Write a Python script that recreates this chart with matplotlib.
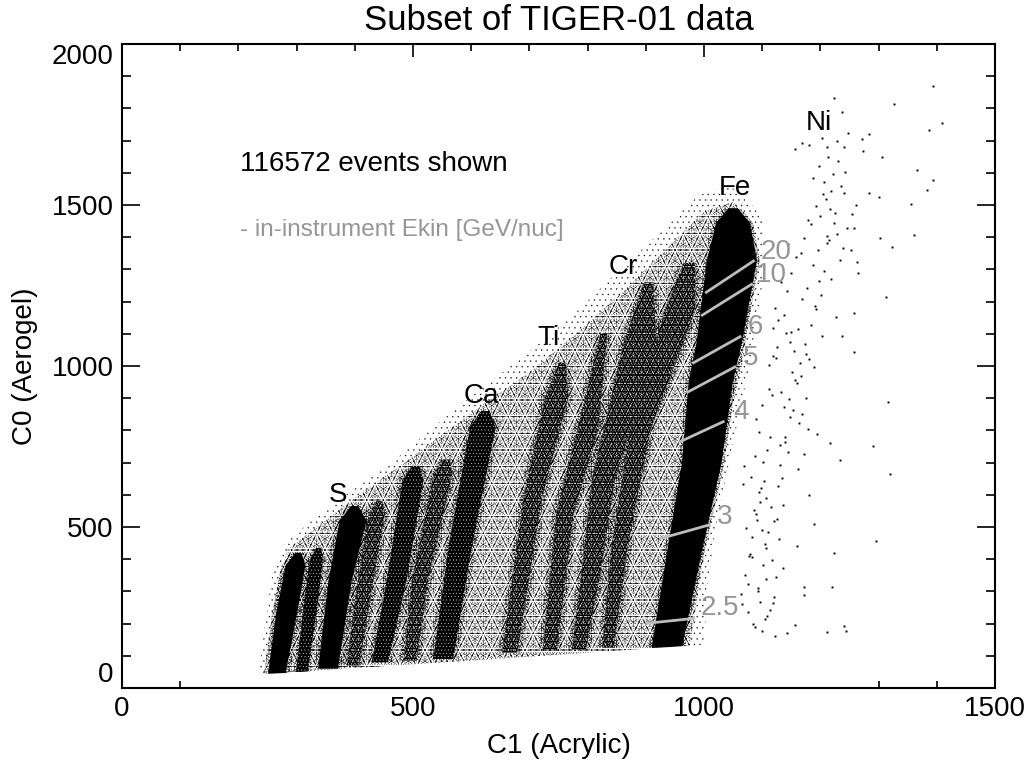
import matplotlib
matplotlib.use('Agg')
import matplotlib.pyplot as plt

plt.rcParams['font.family'] = ['Liberation Sans', 'DejaVu Sans']
plt.rcParams['hatch.linewidth'] = 0.2

# lower cut of the event cloud
floor_c1 = [150, 254, 500, 750, 990, 1240]
floor_c0 = [38, 45, 75, 105, 135, 160]

# outline of the scattered cloud under the bands
cloud_c1 = [252, 258, 268, 285, 320, 400, 470, 560, 620, 700, 780, 860, 950, 1000, 1050, 1085, 1085, 1065, 1035, 1005, 990, 975, 252]
cloud_c0 = [45, 180, 330, 430, 480, 590, 680, 800, 880, 980, 1100, 1230, 1390, 1480, 1510, 1430, 1250, 1000, 760, 500, 300, 125, 45]
# thin outer fringe of the same cloud
fringe_c1 = [235, 245, 258, 280, 320, 400, 470, 555, 610, 690, 770, 850, 940, 990, 1045, 1100, 1100, 1078, 1050, 1020, 1005, 1000, 235]
fringe_c0 = [45, 190, 350, 455, 510, 620, 710, 840, 920, 1030, 1150, 1290, 1440, 1530, 1560, 1470, 1250, 1000, 760, 500, 300, 125, 45]

# element bands: ridge position and half width, read at a few C0 levels
a_c0, a_c1, a_w = [45, 233, 380, 420], [266, 283, 298, 303], [15, 18, 17, 5]
b_c0, b_c1, b_w = [50, 283, 400, 435], [309, 326, 334, 338], [10, 12, 11, 4]
s_c0, s_c1, s_w = [60, 335, 520, 565], [354, 375, 397, 400], [17, 20, 23, 6]
cl_c0, cl_c1, cl_w = [70, 283, 543, 580], [397, 414, 438, 442], [11, 13, 14, 5]
ar_c0, ar_c1, ar_w = [80, 335, 645, 690], [443, 472, 500, 505], [14, 17, 18, 6]
k_c0, k_c1, k_w = [85, 335, 668, 710], [495, 512, 552, 558], [11, 14, 16, 5]
ca_c0, ca_c1, ca_w = [90, 438, 810, 860], [552, 581, 620, 624], [17, 20, 22, 7]
ti_c0, ti_c1, ti_w = [110, 593, 904, 1010], [666, 706, 747, 757], [13, 16, 20, 6]
v_c0, v_c1, v_w = [115, 543, 800, 1100], [735, 761, 800, 828], [12, 15, 18, 6]
cr_c0, cr_c1, cr_w = [120, 335, 645, 1071, 1260], [785, 804, 827, 890, 905], [12, 16, 20, 28, 8]
mn_c0, mn_c1, mn_w = [125, 438, 800, 1174, 1320], [835, 855, 890, 959, 975], [10, 14, 18, 26, 10]
fe_c0 = [125, 438, 698, 956, 1071, 1329, 1444, 1490]
fe_c1 = [936, 968, 996, 1012, 1026, 1048, 1050, 1050]
fe_w = [26, 30, 34, 38, 39, 43, 29, 8]

# single events around Ni and further out
ni_c1 = [1224, 1393, 1327, 1237, 1409, 1386, 1284, 1271, 1247, 1228, 1202, 1168, 1157, 1180, 1211, 1240, 1274, 1306, 1366, 1393, 1383, 1356, 1301, 1283, 1303, 1323, 1360, 1263, 1265, 1313, 1258, 1237, 1258,
         1317, 1290, 1217, 1234, 1319, 1189, 1295, 1224, 1171, 1220, 1240, 1244, 1211, 1157, 1142, 1122,
         1145, 1132, 1122, 1165, 1150, 1175, 1195, 1262, 1258, 1252, 1118, 1112, 1100, 1108, 1140, 1180, 1160, 1172, 1098, 1090, 1083, 1078, 1068, 1070, 1065, 1085, 1092, 1105, 1118,
         1213, 1197, 1222, 1206, 1231, 1188, 1218, 1209, 1243, 1192, 1225, 1236, 1178, 1204, 1246, 1216, 1199, 1229, 1184, 1241, 1211, 1172, 1196, 1223, 1234, 1254, 1187, 1207, 1167, 1219,
         1177, 1158, 1201, 1191, 1214, 1149, 1226, 1168, 1183, 1239, 1161, 1143, 1203, 1174, 1193, 1155, 1137, 1212, 1181, 1166, 1148, 1189, 1128, 1159, 1176, 1141, 1198, 1133, 1169, 1152,
         1125, 1146, 1164, 1119, 1138, 1179, 1156, 1111, 1130, 1171, 1147, 1124, 1102, 1139, 1162, 1116, 1134, 1095, 1153, 1127, 1106, 1144, 1115, 1131, 1089, 1121, 1103, 1136, 1099, 1113,
         1129, 1094, 1107, 1126, 1087, 1117, 1097, 1135, 1081, 1110, 1123, 1091, 1075, 1104, 1120, 1086, 1101, 1114, 1072, 1093, 1109, 1079, 1096, 1067, 1088, 1106, 1076, 1100, 1082, 1063]
ni_c0 = [1831, 1870, 1815, 1790, 1756, 1733, 1722, 1705, 1724, 1698, 1707, 1691, 1673, 1686, 1679, 1681, 1668, 1650, 1608, 1577, 1546, 1502, 1526, 1536, 1396, 1370, 1407, 1324, 1288, 1215, 1166, 1094, 1042,
         889, 753, 760, 708, 664, 508, 458, 418, 313, 315, 193, 178, 173, 196, 170, 163,
         1380, 1260, 1180, 1010, 1105, 900, 790, 1500, 1430, 1360, 1030, 930, 880, 740, 780, 600, 440, 290, 620, 540, 470, 410, 690, 350, 260, 200, 310, 215, 265,
         1648, 1622, 1596, 1571, 1637, 1583, 1544, 1519, 1602, 1497, 1474, 1559, 1452, 1533, 1428, 1488, 1466, 1409, 1441, 1538, 1382, 1397, 1361, 1444, 1328, 1473, 1313, 1296, 1351, 1271,
         1241, 1337, 1222, 1187, 1391, 1288, 1153, 1209, 1128, 1366, 1114, 1232, 1093, 1067, 1178, 1046, 1157, 1403, 1021, 968, 1075, 996, 1143, 947, 1036, 1101, 1265, 919, 851, 982,
         1059, 897, 823, 1119, 873, 804, 958, 1003, 756, 727, 842, 1024, 703, 765, 679, 911, 653, 796, 862, 627, 589, 733, 561, 693, 836, 518, 642, 569, 492, 778,
         463, 608, 436, 525, 721, 399, 578, 372, 654, 483, 346, 521, 322, 448, 284, 553, 381, 243, 497, 301, 224, 415, 268, 632, 188, 339, 236, 176, 406, 293]

# Ekin marks: ends of each line and where its number sits
ekin_labels = ['2.5', '3', '4', '5', '6', '10', '20']
ekin_c1_start = [902, 927, 959, 972, 982, 997, 1004]
ekin_c0_start = [201, 465, 765, 919, 1010, 1158, 1229]
ekin_c1_end = [982, 1008, 1033, 1053, 1062, 1082, 1085]
ekin_c0_end = [216, 506, 827, 997, 1091, 1254, 1326]
ekin_text_c1 = [1028, 1035, 1064, 1080, 1089, 1116, 1124]
ekin_text_c0 = [247, 532, 856, 1024, 1122, 1282, 1355]

element_names = ['S', 'Ca', 'Ti', 'Cr', 'Fe', 'Ni']
element_c1 = [371, 617, 732, 861, 1053, 1198]
element_c0 = [599, 907, 1087, 1307, 1553, 1755]

FRINGE = ['...']
CLOUD = ['...', '....', '.....', '.......']
HALO = ['...', '....', '.....', '.......', '...........']
SOME_GAPS = ['.....']
MORE_GAPS = ['...', '.....', '.......']


def stipple_poly(ax, xs, ys, layers, color='k', z=2):
    # overlaid dot hatches of different pitch, reads as a dot cloud
    for h in layers:
        ax.fill(xs, ys, facecolor='none', edgecolor=color, hatch=h, linewidth=0, zorder=z)


def band(ax, c0, c1, w, gaps=None, halo=7):
    # black core with white flecks, dotted halo around it
    left = [c - d for c, d in zip(c1, w)]
    right = [c + d for c, d in zip(c1, w)]
    xs = left + right[::-1]
    ys = c0 + c0[::-1]
    hl = [c - d - halo for c, d in zip(c1, w)]
    hr = [c + d + halo for c, d in zip(c1, w)]
    stipple_poly(ax, hl + hr[::-1], ys, HALO)
    ax.fill(xs, ys, color='k', linewidth=0, zorder=3)
    if gaps:
        stipple_poly(ax, xs, ys, gaps, color='w', z=3)


fig = plt.figure(figsize=(10.31, 7.61), dpi=100)
ax = fig.add_axes([122 / 1031, 1 - 688 / 761, 873 / 1031, 644 / 761])

stipple_poly(ax, fringe_c1, fringe_c0, FRINGE)
stipple_poly(ax, cloud_c1, cloud_c0, CLOUD)

band(ax, a_c0, a_c1, a_w)
band(ax, b_c0, b_c1, b_w, SOME_GAPS, halo=4)
band(ax, s_c0, s_c1, s_w)
band(ax, cl_c0, cl_c1, cl_w, MORE_GAPS)
band(ax, ar_c0, ar_c1, ar_w, SOME_GAPS)
band(ax, k_c0, k_c1, k_w, MORE_GAPS)
band(ax, ca_c0, ca_c1, ca_w, SOME_GAPS)
band(ax, ti_c0, ti_c1, ti_w, MORE_GAPS)
band(ax, v_c0, v_c1, v_w, MORE_GAPS)
band(ax, cr_c0, cr_c1, cr_w, MORE_GAPS)
band(ax, mn_c0, mn_c1, mn_w, MORE_GAPS)
band(ax, fe_c0, fe_c1, fe_w, halo=5)

ax.plot(ni_c1, ni_c0, ls='none', marker='s', ms=1.4, mew=0, color='k', zorder=2)
ax.fill_between(floor_c1, 0, floor_c0, color='w', linewidth=0, zorder=4)

for i in range(len(ekin_labels)):
    ax.plot([ekin_c1_start[i], ekin_c1_end[i]], [ekin_c0_start[i], ekin_c0_end[i]],
            color='#bdbdbd', lw=2, zorder=5)
    ax.text(ekin_text_c1[i], ekin_text_c0[i], ekin_labels[i], color='#959595', fontsize=20,
            ha='center', va='center', zorder=6)

for name, x, y in zip(element_names, element_c1, element_c0):
    ax.text(x, y, name, color='k', fontsize=20, ha='center', va='center', zorder=6)

ax.text(203, 1627, '116572 events shown', fontsize=20, va='center', zorder=6)
ax.text(203, 1422, '- in-instrument Ekin [GeV/nuc]', fontsize=17.5, color='#959595', va='center', zorder=6)

ax.set_xlim(0, 1500)
ax.set_ylim(0, 2000)
ax.set_xticks([0, 500, 1000, 1500])
ax.set_yticks([0, 500, 1000, 1500, 2000])
ax.set_xticks(range(0, 1501, 100), minor=True)
ax.set_yticks(range(0, 2001, 100), minor=True)
ax.tick_params(axis='x', which='major', direction='in', top=True, length=9.4, width=1.2, labelsize=20, pad=6)
ax.tick_params(axis='x', which='minor', direction='in', top=True, length=4.7, width=1.2)
ax.tick_params(axis='y', which='major', direction='in', right=True, length=13, width=1.2, labelsize=20, pad=6)
ax.tick_params(axis='y', which='minor', direction='in', right=True, length=6.5, width=1.2)
for sp in ax.spines.values():
    sp.set_linewidth(1.5)
    sp.set_zorder(7)
ylabs = ax.get_yticklabels()
ylabs[0].set_verticalalignment('bottom')
ylabs[-1].set_verticalalignment('top')

ax.set_xlabel('C1 (Acrylic)', fontsize=20, labelpad=8)
ax.set_ylabel('C0 (Aerogel)', fontsize=20, labelpad=10)
ax.set_title('Subset of TIGER-01 data', fontsize=25, pad=10)

fig.savefig('out.png', dpi=100)
